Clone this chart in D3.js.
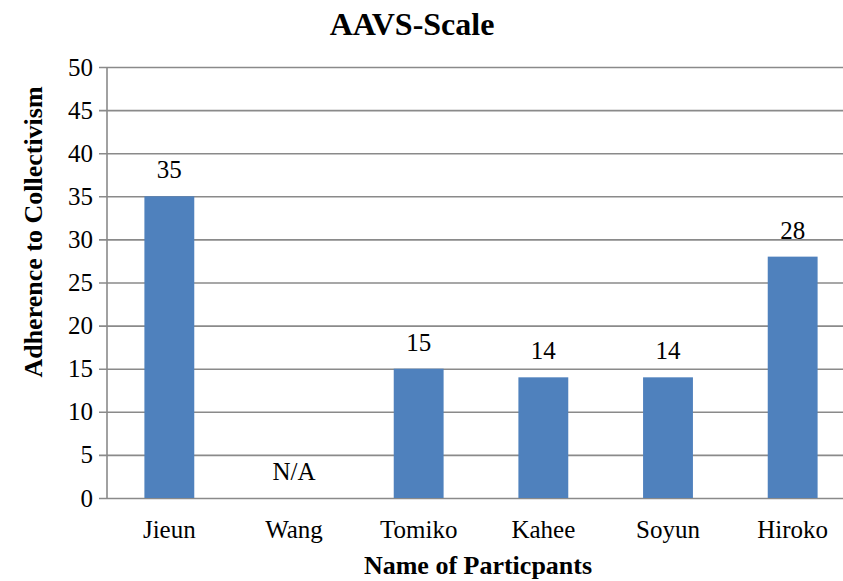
<!DOCTYPE html>
<html>
<head>
<meta charset="utf-8">
<script src="https://cdn.jsdelivr.net/npm/d3@7"></script>
<style>
  html, body { margin: 0; padding: 0; background: #fff; }
  svg { display: block; }
</style>
</head>
<body>
<svg id="chart" width="843" height="581"></svg>
<script>
// AAVS-Scale scores per participant (null = not available)
const participants = ["Jieun", "Wang", "Tomiko", "Kahee", "Soyun", "Hiroko"];
const scores = [35, null, 15, 14, 14, 28];
const valueLabels = ["35", "N/A", "15", "14", "14", "28"];
const yTicks = [0, 5, 10, 15, 20, 25, 30, 35, 40, 45, 50];

const chartTitle = "AAVS-Scale";
const xTitle = "Name of Particpants";
const yTitle = "Adherence to Collectivism";

const FONT = "'Liberation Serif', 'Times New Roman', serif";
const W = 843, H = 581;
const plot = { left: 107, right: 855, top: 67, bottom: 498 };
const barColor = "#4F81BD";
const gridColor = "#8a8a8a";

const svg = d3.select("#chart");

const x = d3.scaleBand()
  .domain(participants)
  .range([plot.left, plot.right])
  .padding(0);

const y = d3.scaleLinear()
  .domain([0, 50])
  .range([plot.bottom, plot.top]);

const barW = x.bandwidth() * 0.4;

// horizontal gridlines with outside ticks
const yAxis = d3.axisLeft(y)
  .tickValues(yTicks)
  .tickSize(-(plot.right - plot.left))
  .tickSizeOuter(0)
  .tickPadding(14)
  .tickFormat(d3.format("d"));

const gy = svg.append("g")
  .attr("transform", `translate(${plot.left},0)`)
  .call(yAxis)
  .attr("font-family", FONT)
  .attr("font-size", 25);
gy.select(".domain").remove();
gy.selectAll(".tick line")
  .attr("x1", -8)
  .attr("stroke", gridColor)
  .attr("stroke-width", 1.6);
gy.selectAll(".tick text")
  .attr("fill", "#000");

// vertical axis line
svg.append("line")
  .attr("x1", plot.left).attr("x2", plot.left)
  .attr("y1", plot.top).attr("y2", plot.bottom)
  .attr("stroke", gridColor)
  .attr("stroke-width", 1.6);

// bars
const rows = participants.map((p, i) => ({ name: p, value: scores[i], label: valueLabels[i] }));

svg.append("g")
  .selectAll("rect")
  .data(rows.filter(d => d.value !== null))
  .join("rect")
  .attr("x", d => x(d.name) + (x.bandwidth() - barW) / 2)
  .attr("y", d => y(d.value))
  .attr("width", barW)
  .attr("height", d => y(0) - y(d.value))
  .attr("fill", barColor);

// value labels
svg.append("g")
  .attr("font-family", FONT)
  .attr("font-size", 25)
  .selectAll("text")
  .data(rows)
  .join("text")
  .attr("x", d => x(d.name) + x.bandwidth() / 2)
  .attr("y", d => y(d.value === null ? 0 : d.value) - 18)
  .attr("text-anchor", "middle")
  .attr("fill", "#000")
  .text(d => d.label);

// category labels
const xAxis = d3.axisBottom(x).tickSize(0).tickPadding(0);
const gx = svg.append("g")
  .attr("transform", `translate(0,${plot.bottom})`)
  .call(xAxis)
  .attr("font-family", FONT)
  .attr("font-size", 25);
gx.select(".domain").remove();
gx.selectAll(".tick text")
  .attr("dy", null)
  .attr("y", 40)
  .attr("fill", "#000");

// titles
svg.append("text")
  .attr("x", 412)
  .attr("y", 35)
  .attr("text-anchor", "middle")
  .attr("font-family", FONT)
  .attr("font-size", 32)
  .attr("font-weight", "bold")
  .text(chartTitle);

svg.append("text")
  .attr("x", 478)
  .attr("y", 574)
  .attr("text-anchor", "middle")
  .attr("font-family", FONT)
  .attr("font-size", 26)
  .attr("font-weight", "bold")
  .text(xTitle);

svg.append("text")
  .attr("transform", `translate(42,232) rotate(-90)`)
  .attr("text-anchor", "middle")
  .attr("font-family", FONT)
  .attr("font-size", 26)
  .attr("font-weight", "bold")
  .text(yTitle);
</script>
</body>
</html>
